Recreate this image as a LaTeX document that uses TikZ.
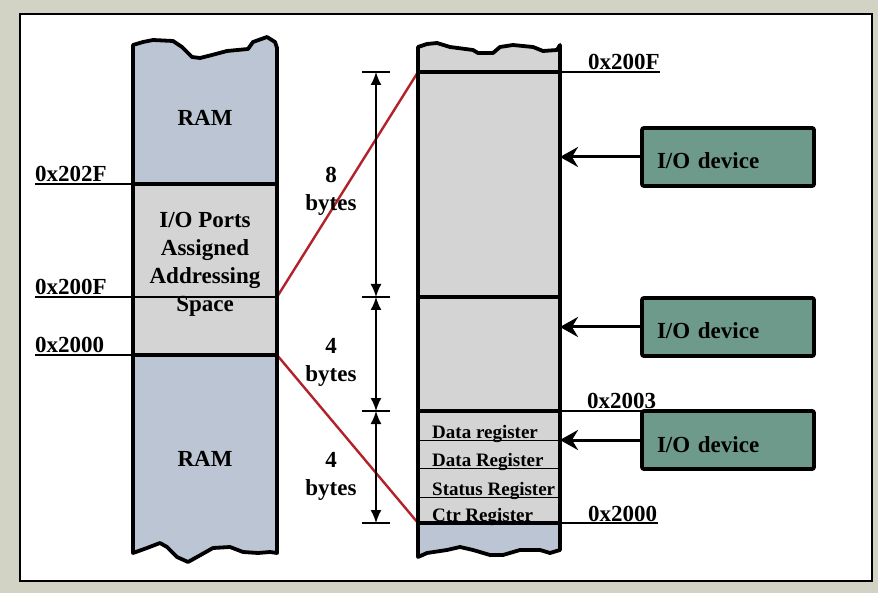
\documentclass[tikz,border=0pt]{standalone}
\usepackage{fontspec}
\setmainfont{Liberation Serif}
\usetikzlibrary{arrows.meta,positioning}

\definecolor{bggray}{RGB}{210,210,197}
\definecolor{ramblue}{RGB}{188,197,211}
\definecolor{portgray}{RGB}{212,212,212}
\definecolor{devteal}{RGB}{110,154,140}
\definecolor{linkred}{RGB}{178,34,42}

\tikzset{
  every node/.style={font=\fontsize{23}{28}\selectfont\bfseries},
  outline/.style={line width=3.8pt, line join=round},
  sepline/.style={line width=3.8pt},
  addr/.style={line width=1.2pt},
  reg/.style={line width=1pt},
  link/.style={linkred, line width=2.4pt},
  device/.style={draw, line width=3.8pt, fill=devteal, rounded corners=2pt,
    minimum width=172pt, minimum height=58pt, text width=142pt, align=left,
    text height=24pt, text depth=0pt},
  feed/.style={line width=3pt, -{Stealth[length=18pt,width=20pt,inset=6pt]}},
  span/.style={line width=1.6pt, {Latex[length=13pt,width=11pt]}-{Latex[length=13pt,width=11pt]}},
  tick/.style={line width=1.5pt},
  hexlabel/.style={anchor=base west, inner sep=0pt},
  reglabel/.style={font=\fontsize{19}{22}\selectfont\bfseries, anchor=base west, inner sep=0pt},
  sizelabel/.style={align=center, inner sep=0pt}
}

\begin{document}
\begin{tikzpicture}[x=1pt, y=-1pt]
    % Background and frame
    \fill[bggray] (0,0) rectangle (878,593);
    \draw[line width=2.5pt, fill=white] (20,14) rectangle (872,581);

    % Memory map (left)
    \fill[ramblue] (133,45) -- (143,42) -- (153,40) -- (173,41) -- (182,47) -- (192,57) -- (200,58)
      -- (212,55) -- (227,51) -- (248,49) -- (253,42) -- (267,37) -- (275,42) -- (277,48)
      -- (277,184) -- (133,184) -- cycle;
    \fill[portgray] (133,184) rectangle (277,355);
    \fill[ramblue] (133,355) -- (277,355) -- (277,553) -- (270,552) -- (258,553) -- (243,552)
      -- (230,547) -- (213,548) -- (197,557) -- (188,562) -- (177,557) -- (167,547) -- (160,543)
      -- (147,548) -- (133,553) -- cycle;

    % Port space (right)
    \fill[portgray] (418,47) -- (427,44) -- (437,43) -- (450,47) -- (473,50) -- (478,53) -- (493,53)
      -- (500,47) -- (513,45) -- (533,47) -- (543,51) -- (557,50) -- (560,45)
      -- (560,523) -- (418,523) -- cycle;
    \fill[ramblue] (418,523) -- (560,523) -- (560,550) -- (550,553) -- (540,550) -- (520,550)
      -- (503,555) -- (490,555) -- (473,550) -- (460,547) -- (447,550) -- (427,553) -- (418,557) -- cycle;

    % Red links
    \coordinate (portTop) at (277,297);
    \coordinate (portBot) at (277,355);
    \coordinate (mapTop) at (418,72);
    \coordinate (mapBot) at (418,523);
    \draw[link] (portTop) -- (mapTop);
    \draw[link] (portBot) -- (mapBot);

    % Address lines
    \draw[addr] (35,184) -- (133,184);
    \draw[addr] (35,297) -- (277,297);
    \draw[addr] (35,355) -- (133,355);
    \draw[addr] (560,72) -- (660,72);
    \draw[addr] (560,411) -- (642,411);
    \draw[addr] (560,523) -- (658,523);
    \node[hexlabel] (a202F) at (35,182) {0x202F};
    \node[hexlabel] (a200Fl) at (35,295) {0x200F};
    \node[hexlabel] (a2000l) at (35,353) {0x2000};
    \node[hexlabel] (a200Fr) at (588,70) {0x200F};
    \node[hexlabel] (a2003) at (587,409) {0x2003};
    \node[hexlabel] (a2000r) at (588,521) {0x2000};

    % Register lines
    \draw[reg] (418,440) -- (560,440);
    \draw[reg] (418,468) -- (560,468);
    \draw[reg] (418,497) -- (560,497);

    % Separators
    \draw[sepline] (133,184) -- (277,184);
    \draw[sepline] (133,355) -- (277,355);
    \draw[sepline] (418,72) -- (560,72);
    \draw[sepline] (418,297) -- (560,297);
    \draw[sepline] (418,411) -- (560,411);
    \draw[sepline] (418,523) -- (560,523);

    % Outlines
    \draw[outline] (133,553) -- (133,45) -- (143,42) -- (153,40) -- (173,41) -- (182,47) -- (192,57)
      -- (200,58) -- (212,55) -- (227,51) -- (248,49) -- (253,42) -- (267,37) -- (275,42) -- (277,48)
      -- (277,553) -- (270,552) -- (258,553) -- (243,552) -- (230,547) -- (213,548) -- (197,557)
      -- (188,562) -- (177,557) -- (167,547) -- (160,543) -- (147,548) -- cycle;
    \draw[outline] (418,557) -- (418,47) -- (427,44) -- (437,43) -- (450,47) -- (473,50) -- (478,53)
      -- (493,53) -- (500,47) -- (513,45) -- (533,47) -- (543,51) -- (557,50) -- (560,45)
      -- (560,550) -- (550,553) -- (540,550) -- (520,550) -- (503,555) -- (490,555) -- (473,550)
      -- (460,547) -- (447,550) -- (427,553) -- cycle;

    % Labels in the columns
    \node (ramTop) at (205,118) {RAM};
    \node[align=center] (ioPorts) at (205,264) {I/O Ports\\Assigned\\Addressing\\Space};
    \node (ramBot) at (205,459) {RAM};
    \node[reglabel] (dataA) at (432,438) {Data register};
    \node[reglabel] (dataB) at (432,466) {Data Register};
    \node[reglabel] (status) at (432,495) {Status Register};
    \node[reglabel] (ctrl) at (432,521) {Ctr Register};

    % Size arrows
    \coordinate (s1) at (376,72);
    \coordinate (s2) at (376,297);
    \coordinate (s3) at (376,411);
    \coordinate (s4) at (376,523);
    \foreach \s in {s1,s2,s3,s4}
      \draw[tick] ([xshift=-14pt]\s) -- ([xshift=14pt]\s);
    \draw[span] (s1) -- (s2);
    \draw[span] (s2) -- (s3);
    \draw[span] (s3) -- (s4);
    \node[sizelabel] (size8) at (331,191) {8\\bytes};
    \node[sizelabel] (size4a) at (331,362) {4\\bytes};
    \node[sizelabel] (size4b) at (331,476) {4\\bytes};

    % I/O devices
    \coordinate (colEdge) at (560,0);
    \node[device] (dev1) at (728,157) {I/O device};
    \node[device] (dev2) at (728,327) {I/O device};
    \node[device] (dev3) at (728,440) {I/O device};
    \draw[feed] (dev1.west) -- (dev1.west -| colEdge);
    \draw[feed] (dev2.west) -- (dev2.west -| colEdge);
    \draw[feed] (dev3.west) -- (dev3.west -| colEdge);
\end{tikzpicture}
\end{document}
